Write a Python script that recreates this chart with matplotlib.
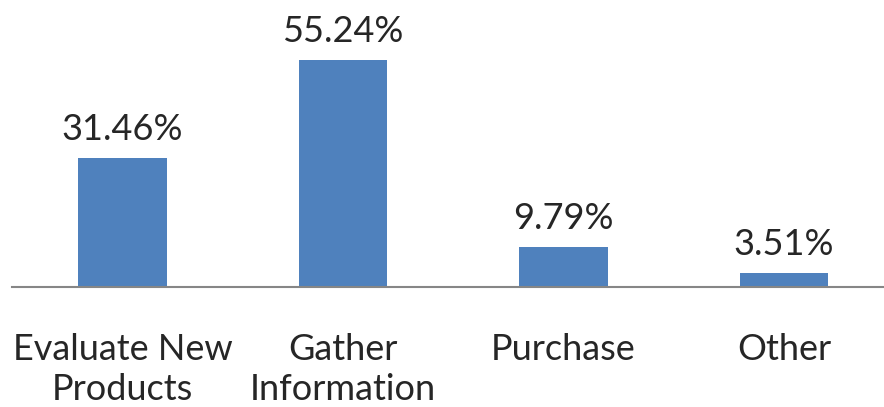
import matplotlib
matplotlib.use("Agg")
import matplotlib.pyplot as plt

categories = ["Evaluate New\nProducts", "Gather\nInformation", "Purchase", "Other"]
values = [31.46, 55.24, 9.79, 3.51]
value_labels = ["31.46%", "55.24%", "9.79%", "3.51%"]

plt.rcParams['font.family'] = ['Lato', 'DejaVu Sans']

W, H = 884, 407
fig = plt.figure(figsize=(W/100, H/100), dpi=100)
ax_bottom = (H - 287) / H
ax = fig.add_axes([12/W, ax_bottom, 1 - 12/W, 287/H])

x = list(range(len(categories)))
ax.bar(x, values, width=0.4, color="#4F81BD", zorder=2)
ax.set_xlim(-0.501, 3.453)
ax.set_ylim(0, 69.8)

for xi, v, lab in zip(x, values, value_labels):
    ax.annotate(lab, (xi, v), xytext=(0, 12), textcoords="offset pixels",
                ha="center", va="bottom", fontsize=26, color="#262626")

ax.set_xticks(x)
ax.set_xticklabels(categories, fontsize=26, color="#262626", linespacing=1.25)
ax.tick_params(axis="x", length=0, pad=33)
ax.set_yticks([])
for s in ["top", "right", "left"]:
    ax.spines[s].set_visible(False)
ax.spines["bottom"].set_color("#868686")
ax.spines["bottom"].set_linewidth(1.5)
ax.patch.set_visible(False)

fig.savefig("out.png", dpi=100)
